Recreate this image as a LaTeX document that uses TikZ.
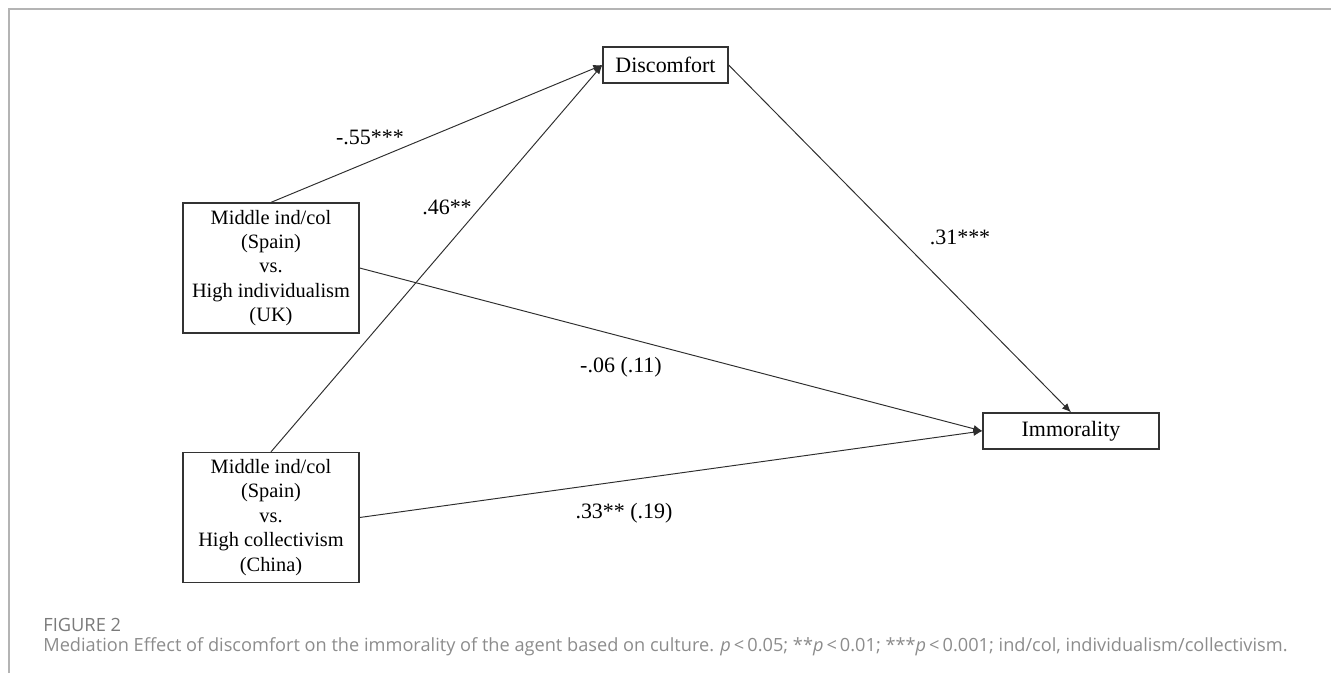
\documentclass[tikz,border=0pt]{standalone}
\usepackage{fontspec}
\setmainfont{Liberation Serif}
\newfontfamily\capfont{Open Sans}
\usepackage{xcolor}
\usetikzlibrary{positioning,arrows.meta}

\definecolor{framegray}{HTML}{B4B4B4}
\definecolor{capgray}{HTML}{8C8C8C}
\definecolor{figgray}{HTML}{7A7A7A}
\definecolor{edgegray}{HTML}{2E2E2E}

\begin{document}
\begin{tikzpicture}[
    x=0.02cm, y=-0.02cm,
    box/.style={draw=black!80,line width=0.75pt,align=center,inner sep=2pt,font=\fontsize{11.6}{13.9}\selectfont},
    cult/.style={box,minimum width=3.52cm,minimum height=2.6cm},
    med/.style={box,minimum height=0.72cm,font=\fontsize{12.5}{15}\selectfont},
    lbl/.style={inner sep=0pt,font=\fontsize{12.5}{15}\selectfont},
    arr/.style={-{Latex[length=1.8mm,width=1.5mm]},line width=0.55pt,edgegray},
    frame/.style={framegray,line width=0.9pt},
    captxt/.style={anchor=west,inner sep=0pt,text=capgray}
  ]
    \useasboundingbox (0,0) rectangle (1331,673);
    \draw[frame] (9,673) -- (9,9) -- (1331,9);

    % boxes
    \node[med,minimum width=2.5cm] (disc) at (665.5,65) {Discomfort};
    \node[med,minimum width=3.52cm] (immo) at (1071,431) {Immorality};
    \node[cult] (uk) at (271,268) {Middle ind/col\\(Spain)\\vs.\\High individualism\\(UK)};
    \node[cult] (cn) at (271,517.5) {Middle ind/col\\(Spain)\\vs.\\High collectivism\\(China)};

    % paths
    \draw[arr] (uk.north) -- (disc.west);
    \draw[arr] (cn.north) -- (disc.west);
    \draw[arr] (disc.east) -- (immo.north);
    \foreach \x in {uk,cn}
      \draw[arr] (\x.east) -- (immo.west);

    % coefficients
    \node[lbl] (a1) at (370,137) {-.55***};
    \node[lbl] (a2) at (447,207) {.46**};
    \node[lbl] (b) at (960,237) {.31***};
    \node[lbl] (c1) at (621,367) {-.06 (.11)};
    \node[lbl] (c2) at (624,513) {.33** (.19)};

    % caption
    \node[captxt,text=figgray,font=\capfont\fontsize{10.4}{12}\selectfont] (fig) at (43,625) {FIGURE 2};
    \node[captxt,font=\capfont\fontsize{10.35}{12}\selectfont] (txt) at (43,647) {Mediation Effect of discomfort on the immorality of the agent based on culture. \textit{p}\,<\,0.05; **\textit{p}\,<\,0.01; ***\textit{p}\,<\,0.001; ind/col, individualism/collectivism.};
  \end{tikzpicture}
\end{document}
